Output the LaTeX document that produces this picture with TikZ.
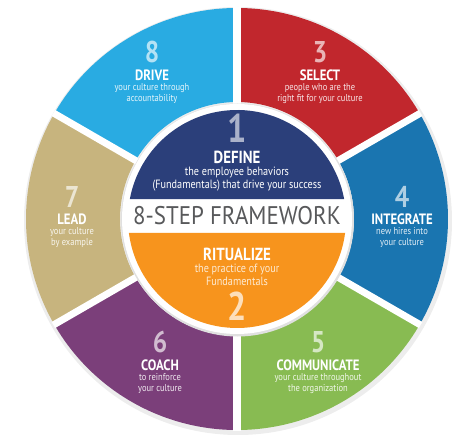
\documentclass[tikz,border=0pt]{standalone}
\usepackage{fontspec}
\setmainfont{PT Sans}[FakeStretch=0.85]
\newfontfamily\titlefont{PT Sans}[FakeStretch=0.9]
\usetikzlibrary{positioning}

\definecolor{drivecol}{HTML}{29ABE2}
\definecolor{selectcol}{HTML}{C1272D}
\definecolor{integcol}{HTML}{1A75B0}
\definecolor{commcol}{HTML}{88BB52}
\definecolor{coachcol}{HTML}{7B3F7A}
\definecolor{leadcol}{HTML}{C7B47E}
\definecolor{definecol}{HTML}{2B3F7A}
\definecolor{ritcol}{HTML}{F7941D}
\definecolor{titlecol}{HTML}{58595B}

\begin{document}
\begin{tikzpicture}[x=1pt,y=1pt,
    num/.style={inner sep=0pt, font=\bfseries\fontsize{30}{30}\selectfont},
    head/.style={inner sep=0pt, text=white, font=\bfseries\fontsize{15}{15}\selectfont},
    desc/.style={inner sep=0pt, align=center, font=\fontsize{10}{11}\selectfont},
    bignum/.style={num, font=\bfseries\fontsize{40}{40}\selectfont},
    bighead/.style={head, font=\bfseries\fontsize{17.5}{17.5}\selectfont},
    bigdesc/.style={desc, text=white, font=\fontsize{12}{13}\selectfont}]
  \useasboundingbox (-237,-217) rectangle (237,219);

  % Outer ring
  \fill[black!7] (1,-2) circle (214);
  \foreach \a/\col in {90/drivecol,30/selectcol,-30/integcol,-90/commcol,-150/coachcol,150/leadcol}
    \fill[\col] (\a:117) arc (\a:\a+60:117) -- (\a+60:211) arc (\a+60:\a:211) -- cycle;
  \foreach \a in {90,30,...,-210}
    \draw[white, line width=7pt] (0,0) -- (\a:212);

  % Inner disk
  \fill[black!12] (0.5,-1) circle (116.5);
  \fill[white] (0,0) circle (115);
  \fill[definecol] ({asin(20/109)}:109) arc ({asin(20/109)}:{180-asin(20/109)}:109) -- cycle;
  \fill[ritcol] ({-asin(14/109)}:109) arc ({-asin(14/109)}:{-180+asin(14/109)}:109) -- cycle;

  \node[font=\titlefont\fontsize{25.5}{25.5}\selectfont, text=titlecol] (title) at (0,3) {8-STEP FRAMEWORK};

  % Steps 1 and 2
  \node[bighead] (h1) at (0,62) {DEFINE};
  \node[bignum, text=definecol!40!white, above=8pt of h1] (n1) {1};
  \node[bigdesc, below=3pt of h1] (d1) {the employee behaviors\\(Fundamentals) that drive your success};

  \node[bighead] (h2) at (0,-35) {RITUALIZE};
  \node[bigdesc, text=ritcol!20!white, below=3pt of h2] (d2) {the practice of your\\Fundamentals};
  \node[bignum, text=ritcol!30!white, below=6pt of d2] (n2) {2};

  % Steps 3 to 8
  \foreach \n/\pos/\col/\hd/\ds in {
      8/{-85,144}/drivecol/DRIVE/{your culture through\\accountability},
      3/{83,144}/selectcol/SELECT/{people who are the\\right fit for your culture},
      4/{165,0}/integcol/INTEGRATE/{new hires into\\your culture},
      5/{81,-146}/commcol/COMMUNICATE/{your culture throughout\\the organization},
      6/{-77,-146}/coachcol/COACH/{to reinforce\\your culture},
      7/{-165,0}/leadcol/LEAD/{your culture\\by example}}
  {
    \node[head] (h\n) at (\pos) {\hd};
    \node[num, text=\col!35!white, above=6pt of h\n] (n\n) {\n};
    \node[desc, text=\col!12!white, below=3pt of h\n] (d\n) {\ds};
  }
\end{tikzpicture}
\end{document}
